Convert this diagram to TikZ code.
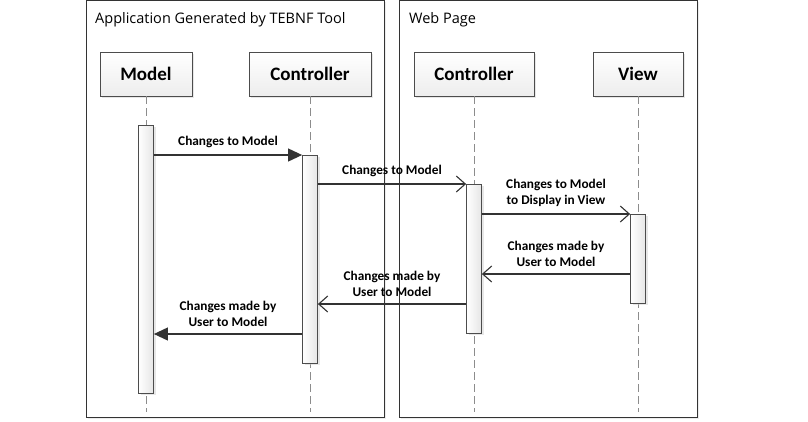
\documentclass[tikz,border=0pt]{standalone}
\usepackage{fontspec}
\setmainfont{Carlito}
\newfontfamily\titlefont{Open Sans}
\usetikzlibrary{arrows.meta,positioning,shadows}
\tikzstyle{frame} = [rectangle, draw=black!80, line width=1.3pt, fill=white, drop shadow={shadow xshift=1.5pt, shadow yshift=-1.5pt, fill=black!15}]
\tikzstyle{head} = [rectangle, draw=black!70, line width=0.8pt, top color=white, bottom color=black!7, minimum height=44pt, font=\fontsize{19}{21}\selectfont\bfseries, drop shadow={shadow xshift=2pt, shadow yshift=-2pt, fill=black!18}]
\tikzstyle{act} = [rectangle, draw=black!70, line width=0.8pt, left color=white, right color=black!10, minimum width=15pt, inner sep=0pt, drop shadow={shadow xshift=2pt, shadow yshift=-2pt, fill=black!18}]
\tikzstyle{life} = [draw=black!45, dash pattern=on 8pt off 4pt, line width=0.9pt]
\tikzstyle{call} = [draw=black!80, line width=1.1pt, -{Triangle[length=14pt,width=13pt]}]
\tikzstyle{line} = [draw=black!80, line width=1.1pt, -{Straight Barb[length=9pt,width=16pt]}]
\tikzstyle{lbl} = [font=\fontsize{13.3}{16}\selectfont\bfseries, align=center, inner sep=0pt, above=7pt]

\begin{document}
\begin{tikzpicture}[x=1pt,y=-1pt]
    \useasboundingbox (0,0) rectangle (808,421);
    % frames
    \node [frame, minimum width=298pt, minimum height=417pt, anchor=north west] (app) at (86,0) {};
    \node [frame, minimum width=298pt, minimum height=417pt, anchor=north west] (web) at (399,0) {};
    \node [anchor=west, inner sep=0pt, font=\titlefont\fontsize{14.5}{16}\selectfont] (apptitle) at (95,20) {Application Generated by TEBNF Tool};
    \node [anchor=west, inner sep=0pt, font=\titlefont\fontsize{14.5}{16}\selectfont] (webtitle) at (409,20) {Web Page};
    % lifeline heads
    \node [head, minimum width=92pt] (model) at (146,74) {Model};
    \node [head, minimum width=122pt] (ctrlA) at (310,74) {Controller};
    \node [head, minimum width=120pt] (ctrlB) at (474,74) {Controller};
    \node [head, minimum width=90pt] (view) at (638,74) {View};
    \coordinate (bot) at (0,412);
    \draw [life] (model.south) -- (model.south |- bot);
    \draw [life] (ctrlA.south) -- (ctrlA.south |- bot);
    \draw [life] (ctrlB.south) -- (ctrlB.south |- bot);
    \draw [life] (view.south) -- (view.south |- bot);
    % activations
    \node [act, minimum height=268pt, anchor=north] (actModel) at (146,125) {};
    \node [act, minimum height=208pt, anchor=north] (actCtrlA) at (310,155) {};
    \node [act, minimum height=149pt, anchor=north] (actCtrlB) at (474,184) {};
    \node [act, minimum height=89pt, anchor=north] (actView) at (638,214) {};
    % messages
    \coordinate (m1) at (0,155);
    \coordinate (m2) at (0,184);
    \coordinate (m3) at (0,214);
    \coordinate (m4) at (0,274);
    \coordinate (m5) at (0,304);
    \coordinate (m6) at (0,334);
    \path [call] (actModel.east |- m1) -- node[lbl]{Changes to Model} (actCtrlA.west |- m1);
    \path [line] (actCtrlA.east |- m2) -- node[lbl]{Changes to Model} (actCtrlB.west |- m2);
    \path [line] (actCtrlB.east |- m3) -- node[lbl]{Changes to Model\\to Display in View} (actView.west |- m3);
    \path [line] (actView.west |- m4) -- node[lbl]{Changes made by\\User to Model} (actCtrlB.east |- m4);
    \path [line] (actCtrlB.west |- m5) -- node[lbl]{Changes made by\\User to Model} (actCtrlA.east |- m5);
    \path [call] (actCtrlA.west |- m6) -- node[lbl]{Changes made by\\User to Model} (actModel.east |- m6);
\end{tikzpicture}
\end{document}
